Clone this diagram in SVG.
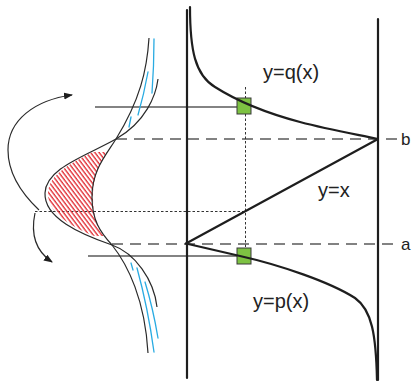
<svg xmlns="http://www.w3.org/2000/svg" width="413" height="383" viewBox="0 0 413 383">
<style>
.thick{fill:none;stroke:#1e1e1e;stroke-width:2.2;stroke-linecap:round;stroke-linejoin:round}
.thin{fill:none;stroke:#2a2a2a;stroke-width:1.2}
.guide{fill:none;stroke:#5a5a5a;stroke-width:1.4}
.dash{fill:none;stroke:#5a5a5a;stroke-width:1.4;stroke-dasharray:11 7}
.dot{fill:none;stroke:#333;stroke-width:1;stroke-dasharray:2.5 2}
.blue{fill:none;stroke:#29abe2;stroke-width:1.3;stroke-linecap:round}
.box{fill:#7dc242;stroke:#3a3a3a;stroke-width:1}
.lbl{font-family:"Liberation Sans",Arial,sans-serif;font-size:20px;fill:#222}
.ab{font-family:"Liberation Sans",Arial,sans-serif;font-size:17px;fill:#222}
</style>
<defs>
<marker id="ah" markerWidth="10" markerHeight="8" refX="8" refY="3.5" orient="auto" markerUnits="userSpaceOnUse">
<path d="M0,0 L9,3.5 L0,7 z" fill="#1e1e1e"/>
</marker>
<pattern id="hatch" width="3.4" height="10" patternUnits="userSpaceOnUse" patternTransform="rotate(-37)">
<line x1="1" y1="0" x2="1" y2="10" stroke="#e0242b" stroke-width="1.3"/>
</pattern>
<clipPath id="lens">
<path d="M114,141 C86,157 49,169 48,193 C47,216 80,231 109,242 C99,230 93,220 93,197 C93,172 104,157 114,141 Z"/>
</clipPath>
</defs>

<g id="connectors">
<line class="guide" x1="95" y1="107" x2="237" y2="107"/>
<line class="guide" x1="88" y1="256" x2="237" y2="256"/>
<line class="dash" x1="116" y1="139" x2="398" y2="139"/>
<line class="dash" x1="112" y1="244" x2="395" y2="244"/>
<line class="dot" x1="35" y1="211.5" x2="246" y2="211.5"/>
<line class="dot" x1="245.5" y1="87" x2="245.5" y2="263"/>
<path class="thin" d="M39,210 C20,192 8,172 8,150 C8,120 35,100 72,95" marker-end="url(#ah)"/>
<path class="thin" d="M35,213 C31,232 34,250 52,262" marker-end="url(#ah)"/>
</g>

<g id="distributions">
<g clip-path="url(#lens)">
<rect x="40" y="152" width="70" height="84" fill="url(#hatch)"/>
</g>
<path class="thin" d="M158,79 C156,95 146,122 116,139 C86,156 46,168 45,193 C44,218 80,234 112,245 C135,253 154,280 157,307"/>
<path class="thin" d="M149,38 C147,70 140,100 116,139 C106,155 92,170 92,197 C92,220 100,232 112,245 C128,265 145,300 148,353"/>
<path class="blue" d="M154,39 Q154,66 152,93"/>
<path class="blue" d="M148,72 Q144,94 138,115"/>
<path class="blue" d="M131,117 L129,127"/>
<path class="blue" d="M131,263 L133,270"/>
<path class="blue" d="M137,268 Q148,308 154,352"/>
<path class="blue" d="M145,282 Q153,308 158,338"/>
</g>

<g id="axis-left"><line class="thick" x1="187" y1="10" x2="187" y2="378"/></g>
<g id="axis-right"><line class="thick" x1="378" y1="19" x2="378" y2="380"/></g>

<g id="box-q"><rect class="box" x="237" y="98" width="14" height="16"/></g>
<g id="box-p"><rect class="box" x="237" y="248" width="14" height="16"/></g>

<g id="curve-q"><path class="thick" d="M190,7 C190,50 195,75 215,87 C237,101 270,114 300,122 C330,130 360,135 378,139"/></g>
<g id="line-yx"><path class="thick" d="M378,139 L186,243.5"/></g>
<g id="curve-p"><path class="thick" d="M186,243.5 L240,256 C280,265 330,282 355,298 C372,310 376,335 377,380"/></g>

<g id="labels">
<text class="lbl" x="263" y="79">y=q(x)</text>
<text class="lbl" x="318" y="197">y=x</text>
<text class="lbl" x="253" y="308">y=p(x)</text>
<text class="ab" x="401" y="145">b</text>
<text class="ab" x="401" y="250">a</text>
</g>
</svg>
